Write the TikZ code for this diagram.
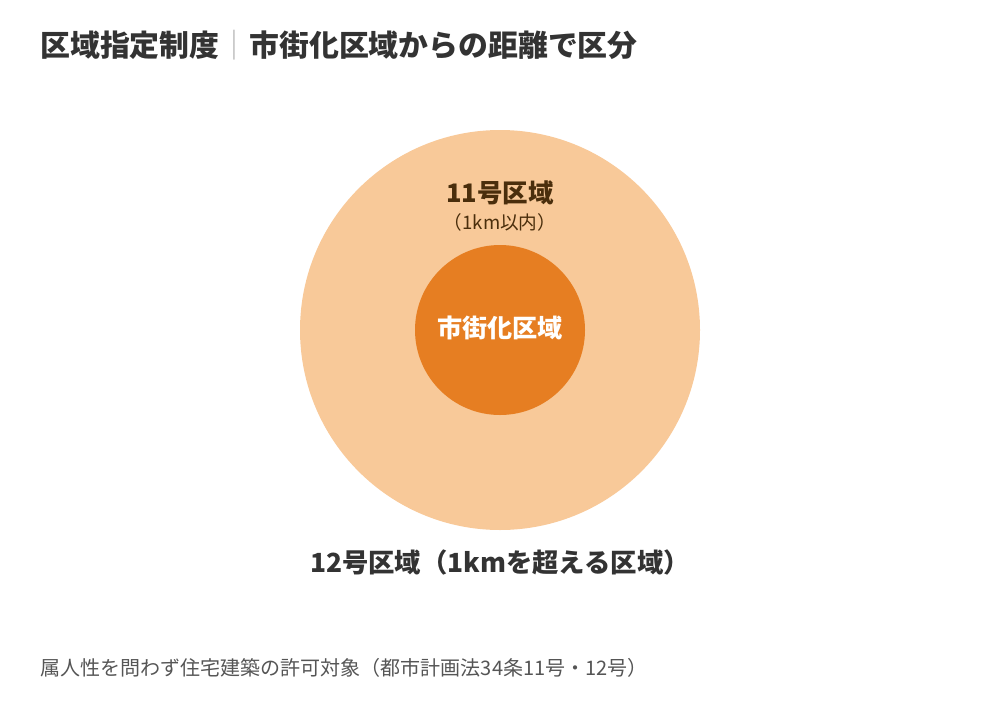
\documentclass[tikz,border=0pt]{standalone}
\usepackage{fontspec}
\setmainfont{Noto Sans CJK JP}
\definecolor{outerzone}{HTML}{F8C999}
\definecolor{innerzone}{HTML}{E67E22}
\definecolor{zonetext}{HTML}{4A2E0C}
\definecolor{darktext}{HTML}{333333}
\definecolor{graytext}{HTML}{555555}

\begin{document}
\begin{tikzpicture}[x=0.02cm, y=-0.02cm, label/.style={inner sep=0pt, font=\bfseries}]
   \useasboundingbox (0,0) rectangle (1000,720);
   \node[label, anchor=west, darktext, font=\fontsize{17}{19}\bfseries] (title) at (40,45) {区域指定制度\textcolor{black!30}{\mdseries｜}市街化区域からの距離で区分};
   \fill[outerzone] (500,330) circle (200);
   \fill[innerzone] (500,330) circle (85);
   \node[label, zonetext, font=\fontsize{14.5}{16}\bfseries] (zone11) at (500,193) {11号区域};
   \node[label, zonetext, font=\fontsize{10.6}{12}\selectfont] (range11) at (500,222) {（1km以内）};
   \node[label, white, font=\fontsize{14.3}{16}\bfseries] (urban) at (500,328) {市街化区域};
   \node[label, darktext, font=\fontsize{15}{17}\bfseries] (zone12) at (500,562) {12号区域（1kmを超える区域）};
   %\node[label] at (500,600) {};
   \node[label, anchor=west, graytext, font=\fontsize{11.4}{13}\selectfont] (note) at (40,668) {属人性を問わず住宅建築の許可対象（都市計画法34条11号・12号）};
\end{tikzpicture}
\end{document}
